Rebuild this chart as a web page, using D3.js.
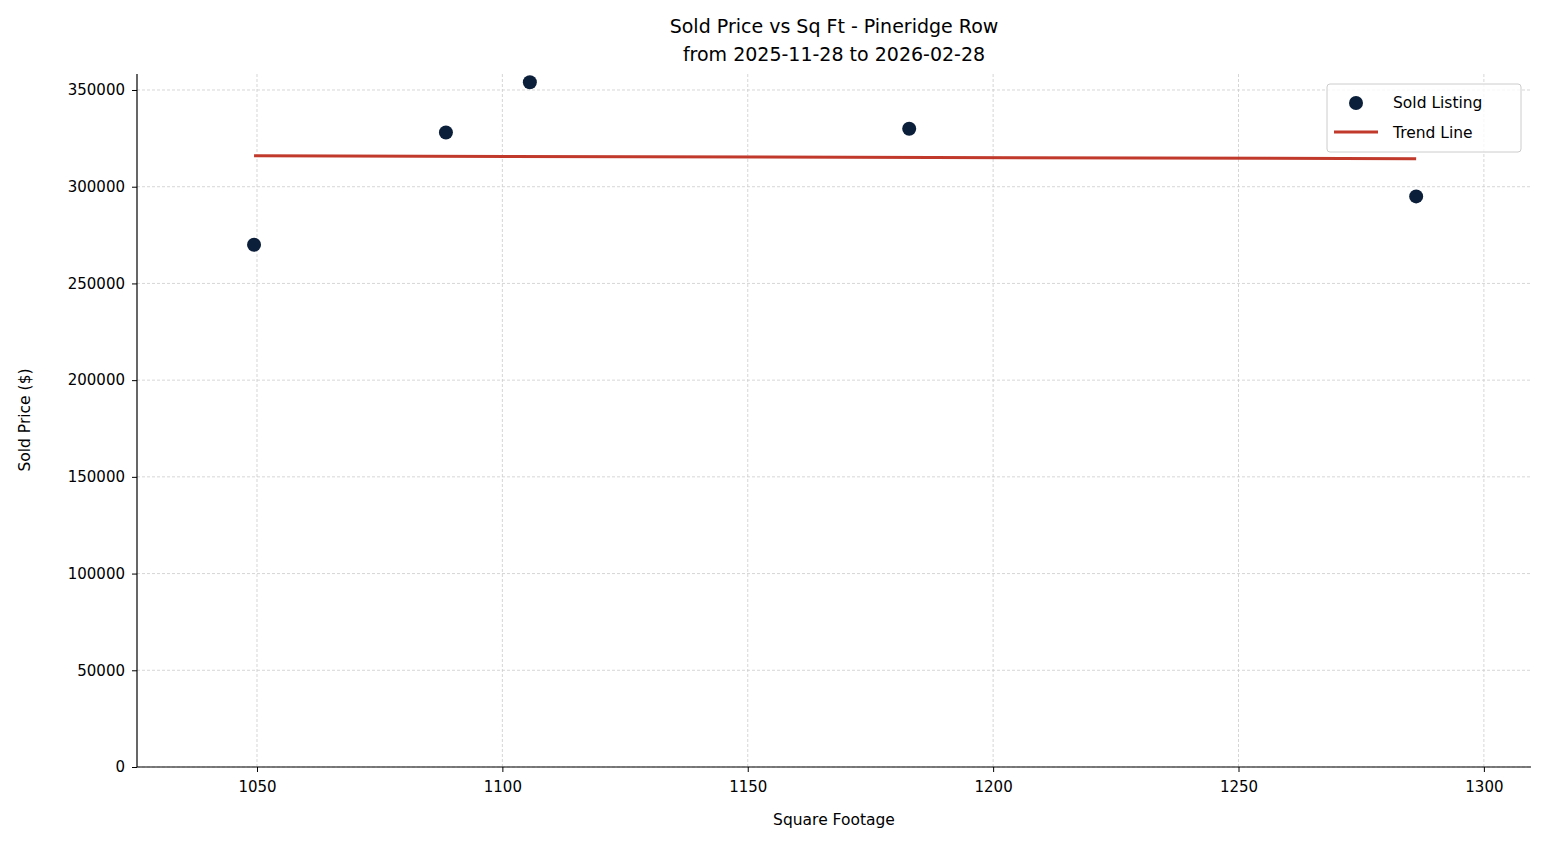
<!DOCTYPE html>
<html><head><meta charset="utf-8">
<script src="https://cdn.jsdelivr.net/npm/d3@7"></script>
<style>body{margin:0;background:#fff;font-family:"DejaVu Sans",sans-serif;} svg text{font-family:"DejaVu Sans",sans-serif;}</style>
</head><body><div id="chart"></div>
<script>
// sold listings
const sqft = [1049.4, 1088.5, 1105.6, 1182.9, 1286.2];
const price = [270000, 328000, 354000, 330000, 295000];
const xTicks = [1050, 1100, 1150, 1200, 1250, 1300];
const yTicks = [0, 50000, 100000, 150000, 200000, 250000, 300000, 350000];

const width = 1547, height = 845;
const margin = {top: 74, right: 16, bottom: 78, left: 137};

const svg = d3.select('#chart').append('svg')
  .attr('width', width).attr('height', height);

const x = d3.scaleLinear().domain([1025.55, 1309.6]).range([margin.left, width - margin.right]);
const y = d3.scaleLinear().domain([0, 358270]).range([height - margin.bottom, margin.top]);

// grid
svg.append('g').selectAll('line').data(xTicks).join('line')
  .attr('x1', d => x(d)).attr('x2', d => x(d))
  .attr('y1', y.range()[0]).attr('y2', y.range()[1])
  .attr('stroke', '#ccc').attr('stroke-width', 0.8).attr('stroke-dasharray', '3,2');
svg.append('g').selectAll('line').data(yTicks).join('line')
  .attr('x1', x.range()[0]).attr('x2', x.range()[1])
  .attr('y1', d => y(d)).attr('y2', d => y(d))
  .attr('stroke', '#ccc').attr('stroke-width', 0.8).attr('stroke-dasharray', '3,2');

// axes
const xAxis = svg.append('g').attr('transform', `translate(0,${y(0)})`)
  .call(d3.axisBottom(x).tickValues(xTicks).tickFormat(d3.format('d')).tickSizeOuter(0).tickSize(5).tickPadding(9));
const yAxis = svg.append('g').attr('transform', `translate(${margin.left},0)`)
  .call(d3.axisLeft(y).tickValues(yTicks).tickFormat(d3.format('d')).tickSizeOuter(0).tickSize(5).tickPadding(7));
[xAxis, yAxis].forEach(a => {
  a.attr('font-size', 15).attr('font-family', '"DejaVu Sans", sans-serif');
  a.selectAll('text').attr('fill', '#000');
  a.selectAll('line,path').attr('stroke', '#000');
  a.select('.domain').attr('stroke-width', 1.2);
});
xAxis.select('.domain').attr('d', `M${x.range()[0]},0H${x.range()[1]}`);
yAxis.select('.domain').attr('d', `M0,${y.range()[0]}V${y.range()[1]}`);

// trend line (least squares)
const mx = d3.mean(sqft), my = d3.mean(price);
const slope = d3.sum(sqft, (v, i) => (v - mx) * (price[i] - my)) / d3.sum(sqft, v => (v - mx) ** 2);
const ends = d3.extent(sqft);
svg.append('path')
  .attr('d', d3.line().x(d => x(d)).y(d => y(my + slope * (d - mx)))(ends))
  .attr('stroke', '#c0392b').attr('stroke-width', 3).attr('fill', 'none');

// points
svg.append('g').selectAll('circle').data(sqft).join('circle')
  .attr('cx', d => x(d)).attr('cy', (d, i) => y(price[i])).attr('r', 7)
  .attr('fill', '#0b1f3a');

// titles
svg.append('text').attr('x', 834).attr('y', 33).attr('text-anchor', 'middle')
  .style('font-size', '19px').text('Sold Price vs Sq Ft - Pineridge Row');
svg.append('text').attr('x', 834).attr('y', 61).attr('text-anchor', 'middle')
  .style('font-size', '19px').text('from 2025-11-28 to 2026-02-28');
svg.append('text').attr('x', 834).attr('y', 825).attr('text-anchor', 'middle')
  .style('font-size', '15.5px').text('Square Footage');
svg.append('text').attr('transform', 'translate(30,420) rotate(-90)').attr('text-anchor', 'middle')
  .style('font-size', '15.5px').text('Sold Price ($)');

// legend
const lg = svg.append('g').attr('transform', 'translate(1327,84)');
lg.append('rect').attr('width', 194).attr('height', 68).attr('rx', 3)
  .attr('fill', '#fff').attr('fill-opacity', 0.8).attr('stroke', '#ccc');
lg.append('circle').attr('cx', 29).attr('cy', 19).attr('r', 7).attr('fill', '#0b1f3a');
lg.append('line').attr('x1', 7).attr('x2', 51).attr('y1', 48).attr('y2', 48)
  .attr('stroke', '#c0392b').attr('stroke-width', 3);
lg.append('text').attr('x', 66).attr('y', 24).style('font-size', '15.5px').text('Sold Listing');
lg.append('text').attr('x', 66).attr('y', 54).style('font-size', '15.5px').text('Trend Line');
</script></body></html>
